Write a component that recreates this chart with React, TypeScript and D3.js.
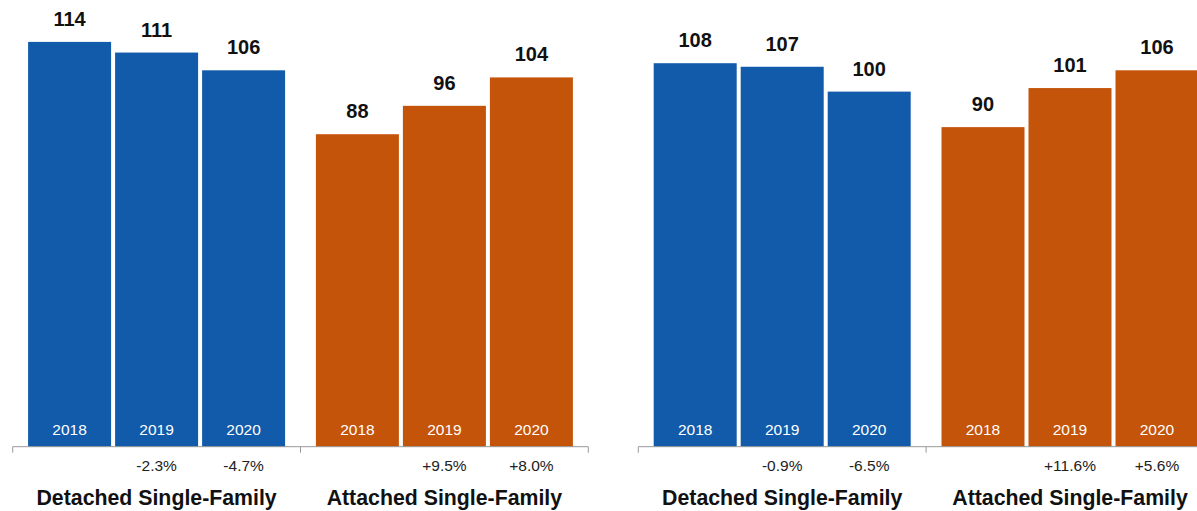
import React from "react";
import * as d3 from "d3";

const groups = ["Detached Single-Family", "Attached Single-Family"];
const years = ["2018", "2019", "2020"];
const leftDetached = [114, 111, 106];
const leftAttached = [88, 96, 104];
const rightDetached = [108, 107, 100];
const rightAttached = [90, 101, 106];
const leftDetachedPct = ["", "-2.3%", "-4.7%"];
const leftAttachedPct = ["", "+9.5%", "+8.0%"];
const rightDetachedPct = ["", "-0.9%", "-6.5%"];
const rightAttachedPct = ["", "+11.6%", "+5.6%"];
const groupColors = ["#125BAA", "#C4540A"];

const W = 1197;
const H = 511;
const BASE = 446.7;
const GROUP_W = 287.8;
const FONT = "'Liberation Sans', Arial, Helvetica, sans-serif";

const y = d3.scaleLinear().domain([0, 125.8]).range([BASE, 0]);

type PanelProps = {
  x0: number;
  values: number[][];
  pcts: string[][];
};

function Panel({ x0, values, pcts }: PanelProps) {
  const gx = d3.scaleBand<string>().domain(groups).range([x0, x0 + GROUP_W * 2]).padding(0);
  const bx = d3
    .scaleBand<string>()
    .domain(years)
    .range([0, gx.bandwidth()])
    .paddingInner(0.046)
    .paddingOuter(0.177);
  const tickXs = [x0, x0 + GROUP_W, x0 + GROUP_W * 2];
  return (
    <g>
      {groups.map((g, gi) => {
        const gX = gx(g)!;
        return (
          <g key={g}>
            {years.map((yr, i) => {
              const v = values[gi][i];
              const bX = gX + bx(yr)!;
              const cx = bX + bx.bandwidth() / 2;
              return (
                <g key={yr}>
                  <rect x={bX} y={y(v)} width={bx.bandwidth()} height={BASE - y(v)} fill={groupColors[gi]} />
                  <text x={cx} y={y(v) - 16} textAnchor="middle" fontFamily={FONT} fontWeight="bold" fontSize={20} fill="#111">
                    {v}
                  </text>
                  <text x={cx} y={434.5} textAnchor="middle" fontFamily={FONT} fontSize={15.5} fill="#fff">
                    {yr}
                  </text>
                  {pcts[gi][i] && (
                    <text x={cx} y={470.5} textAnchor="middle" fontFamily={FONT} fontSize={15.5} fill="#222">
                      {pcts[gi][i]}
                    </text>
                  )}
                </g>
              );
            })}
            <text x={gX + gx.bandwidth() / 2} y={505} textAnchor="middle" fontFamily={FONT} fontWeight="bold" fontSize={21.3} fill="#111">
              {g}
            </text>
          </g>
        );
      })}
      <line x1={x0} x2={x0 + GROUP_W * 2} y1={BASE} y2={BASE} stroke="#999" strokeWidth={1} />
      {tickXs.map((t, i) => (
        <line key={i} x1={t} x2={t} y1={BASE} y2={BASE + 6} stroke="#999" strokeWidth={1} />
      ))}
    </g>
  );
}

export default function App() {
  return (
    <svg width={W} height={H} style={{ position: "absolute", left: 0, top: 0, display: "block" }}>
      <rect width={W} height={H} fill="#fff" />
      <Panel x0={12.7} values={[leftDetached, leftAttached]} pcts={[leftDetachedPct, leftAttachedPct]} />
      <Panel x0={638.3} values={[rightDetached, rightAttached]} pcts={[rightDetachedPct, rightAttachedPct]} />
    </svg>
  );
}
